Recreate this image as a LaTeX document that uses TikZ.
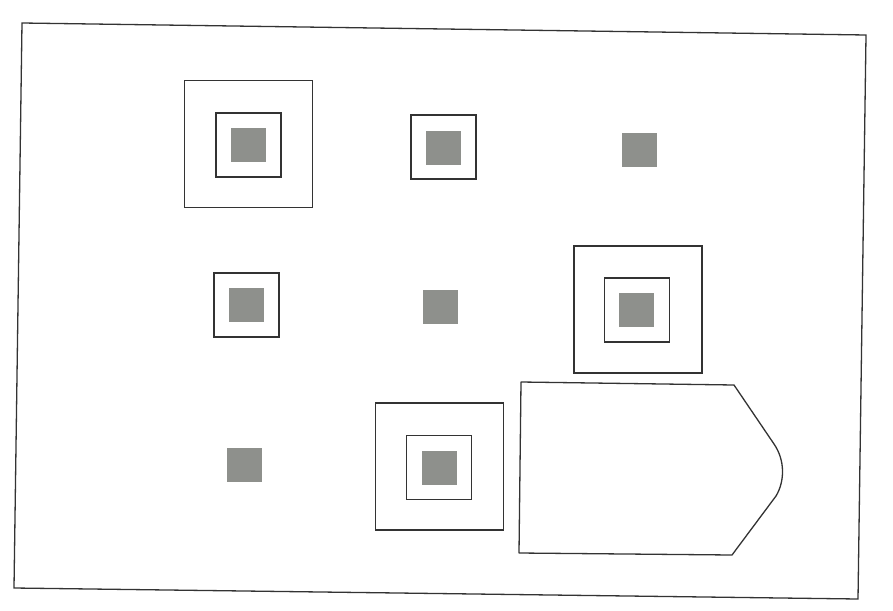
\documentclass[tikz,border=0pt]{standalone}
\begin{document}
\begin{tikzpicture}[x=1pt,y=-1pt,
  linecol/.style={draw=black!80, line width=1.3pt},
  graysq/.style={rectangle, fill=sqgray, draw=none, minimum width=35pt, minimum height=34pt, inner sep=0pt, outer sep=0pt},
  innerbox/.style={rectangle, linecol, minimum width=65pt, minimum height=64pt, inner sep=0pt, outer sep=0pt},
  outerbox/.style={rectangle, linecol, minimum width=128pt, minimum height=127pt, inner sep=0pt, outer sep=0pt}]
\definecolor{sqgray}{RGB}{142,144,140}
\useasboundingbox (0,0) rectangle (893,610);
% outer frame (slightly skewed scan)
\coordinate (ftl) at (22,23);
\coordinate (ftr) at (866,35);
\coordinate (fbr) at (858,599);
\coordinate (fbl) at (14,588);
\draw[linecol] (ftl) -- (ftr) -- (fbr) -- (fbl) -- cycle;
% group 1: top left
\node[outerbox] (o1) at (248.5,144) {};
\node[innerbox] (i1) at (248.5,145) {};
\node[graysq] (g1) at (248.5,144.5) {};
% group 2: top middle
\node[innerbox] (i2) at (443.5,147) {};
\node[graysq] (g2) at (443.5,147.5) {};
% group 3: top right
\node[graysq] (g3) at (639.5,150) {};
% group 4: middle left
\node[innerbox] (i4) at (246.5,305) {};
\node[graysq] (g4) at (246.5,304.5) {};
% group 5: middle centre
\node[graysq] (g5) at (440.5,307) {};
% group 6: middle right
\node[outerbox] (o6) at (638,309.5) {};
\node[innerbox] (i6) at (637,310) {};
\node[graysq] (g6) at (636.5,309.5) {};
% group 7: bottom left
\node[graysq] (g7) at (244.5,465) {};
% group 8: bottom centre
\node[outerbox] (o8) at (439.5,466.5) {};
\node[innerbox] (i8) at (439,467.5) {};
\node[graysq] (g8) at (439,467.5) {};
% pointed shape
\coordinate (ptl) at (521,382);
\coordinate (ptr) at (734,385);
\coordinate (pa) at (774,444);
\coordinate (pb) at (776,496);
\coordinate (pbr) at (732,555);
\coordinate (pbl) at (519,553);
\draw[linecol, line join=round] (ptl) -- (ptr) -- (pa) .. controls (785,460) and (785,481) .. (pb) -- (pbr) -- (pbl) -- cycle;
\end{tikzpicture}
\end{document}
